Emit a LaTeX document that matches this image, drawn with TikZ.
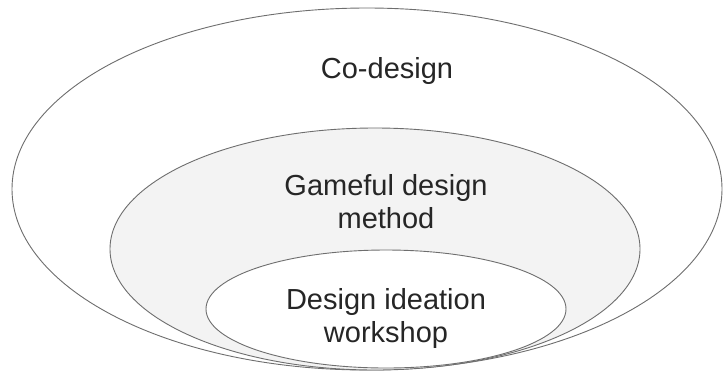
\documentclass[tikz,border=0pt]{standalone}
\usepackage{fontspec}
\setmainfont{Liberation Sans}
\usetikzlibrary{shapes.geometric}

\definecolor{rimgray}{HTML}{6E6E6E}
\definecolor{layerfill}{HTML}{F3F3F3}

\tikzset{
  layer/.style={ellipse, draw=rimgray, line width=0.9pt, inner sep=0pt},
  caption/.style={align=center, font=\fontsize{29}{33}\selectfont, text=black!85}
}

\begin{document}
\begin{tikzpicture}[x=1pt, y=-1pt]
    \useasboundingbox (0,0) rectangle (725,373);

    \node[layer, fill=white, minimum width=710pt, minimum height=362pt] (codesign) at (367, 189) {};
    \node[layer, fill=layerfill, minimum width=530pt, minimum height=242pt] (gameful) at (375, 249) {};
    \node[layer, fill=white, minimum width=360pt, minimum height=118pt] (workshop) at (386, 309) {};

    \node[caption] (codesignlbl) at (387, 71) {Co-design};
    \node[caption] (gamefullbl) at (386, 202) {Gameful design\\method};
    \node[caption] (workshoplbl) at (386, 318) {Design ideation\\workshop};
  \end{tikzpicture}
\end{document}
